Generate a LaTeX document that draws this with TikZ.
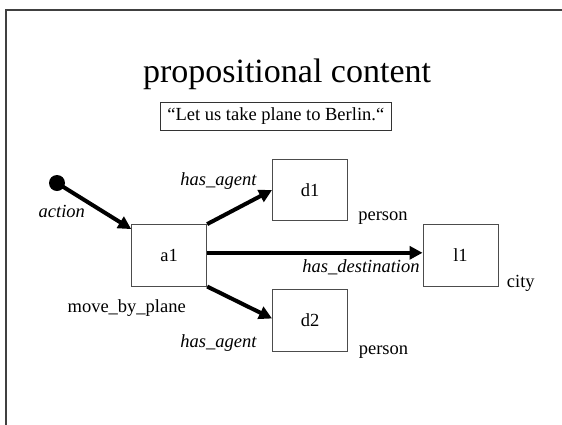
\documentclass[tikz,border=0pt]{standalone}
\usepackage{fontspec}
\setmainfont{Liberation Serif}
\usetikzlibrary{arrows.meta}

\begin{document}
\begin{tikzpicture}[x=1pt,y=-1pt,
  every node/.style={font=\fontsize{18.5}{22}\selectfont, inner sep=0pt},
  entity/.style={draw=black!70, line width=0.9pt, minimum width=75pt, minimum height=61.5pt},
  quotebox/.style={draw=black!80, line width=0.9pt, minimum width=231.5pt, minimum height=27.7pt},
  rel/.style={line width=4pt, -{Triangle[length=13pt,width=13pt]}},
  lbl/.style={anchor=base},
  rlbl/.style={anchor=base, font=\fontsize{18.5}{22}\selectfont\itshape},
  title/.style={anchor=base, font=\fontsize{34}{40}\selectfont}
]
  % canvas and slide frame (runs off to the right and bottom)
  \useasboundingbox (0,0) rectangle (562,424);
  \draw[black!75, line width=2pt] (6,440) -- (6,10) -- (580,10);

  % heading and the sentence being analysed
  \node[title] (head) at (287,82) {propositional content};
  \node[quotebox] (sent) at (275.8,116.2) {“Let us take plane to Berlin.“};

  % entities
  \node[entity] (a1) at (169.2,255.3) {a1};
  \node[entity] (d1) at (310,190) {d1};
  \node[entity] (d2) at (310,320.5) {d2};
  \node[entity] (l1) at (460.5,255.3) {l1};

  % entry point of the action
  \fill (57,183) circle (8pt);
  \coordinate (start) at (57,183);

  % relations
  \draw[rel] (start) -- ([yshift=-5pt]a1.north west);
  \draw[rel] (a1.north east) -- (d1.west);
  \draw[rel] ([yshift=2.5pt]a1.east) -- ([yshift=2.5pt]l1.west);
  \draw[rel] (a1.south east) -- ([yshift=2pt]d2.west);

  % relation and type labels
  \node[rlbl] (lact) at (61.8,217.3) {action};
  \node[rlbl] (lag1) at (218.5,185) {has\_agent};
  \node[rlbl] (lag2) at (218.5,347.7) {has\_agent};
  \node[rlbl] (ldest) at (361,272.7) {has\_destination};
  \node[lbl] (ta1) at (126.7,312.7) {move\_by\_plane};
  \node[lbl] (td1) at (383,220.7) {person};
  \node[lbl] (td2) at (383.5,354) {person};
  \node[lbl] (tl1) at (520.8,287.3) {city};
\end{tikzpicture}
\end{document}
